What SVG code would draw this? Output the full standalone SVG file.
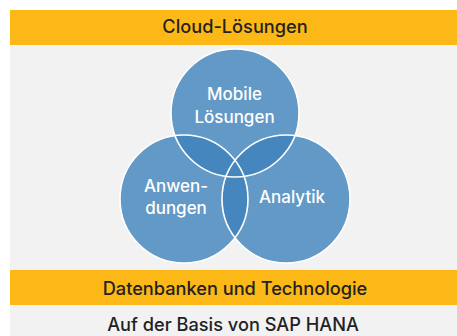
<svg xmlns="http://www.w3.org/2000/svg" xmlns:xlink="http://www.w3.org/1999/xlink" width="457" height="336" viewBox="0 0 457 336">
<style>
.bar{fill:#FCB817}
.bg{fill:#F2F2F2}
.lbl{font-family:Inter,"Open Sans",sans-serif;font-weight:500;fill:#222222;text-anchor:middle;font-size:18.2px}
.cl{font-family:Inter,"Open Sans",sans-serif;font-weight:500;fill:#FFFFFF;text-anchor:middle;font-size:17px}
.c{fill:#6399C6}
.ov{fill:#4686BF}
.ring{fill:none;stroke:#FFFFFF;stroke-width:1.6}
</style>
<defs>
<circle id="cT" cx="235" cy="113" r="64"/>
<circle id="cL" cx="184" cy="199" r="64"/>
<circle id="cR" cx="286" cy="199" r="64"/>
<clipPath id="clipT"><use xlink:href="#cT"/></clipPath>
<clipPath id="clipL"><use xlink:href="#cL"/></clipPath>
</defs>
<rect class="bg" x="10" y="45" width="447" height="291"/>
<g id="cloud">
<rect class="bar" x="10" y="10" width="447" height="35"/>
<text class="lbl" x="235" y="33">Cloud-Lösungen</text>
</g>
<g id="venn-fills">
<use xlink:href="#cT" class="c"/>
<use xlink:href="#cL" class="c"/>
<use xlink:href="#cR" class="c"/>
<use xlink:href="#cL" class="ov" clip-path="url(#clipT)"/>
<use xlink:href="#cR" class="ov" clip-path="url(#clipT)"/>
<use xlink:href="#cR" class="ov" clip-path="url(#clipL)"/>
</g>
<g id="mobile">
<use xlink:href="#cT" class="ring"/>
<text class="cl" x="234.5" y="100">Mobile</text>
<text class="cl" x="234.5" y="123">Lösungen</text>
</g>
<g id="anwendungen">
<use xlink:href="#cL" class="ring"/>
<text class="cl" x="176" y="192">Anwen-</text>
<text class="cl" x="176" y="214">dungen</text>
</g>
<g id="analytik">
<use xlink:href="#cR" class="ring"/>
<text class="cl" x="292" y="203">Analytik</text>
</g>
<g id="datenbanken">
<rect class="bar" x="10" y="270" width="447" height="35"/>
<text class="lbl" x="235" y="294.5">Datenbanken und Technologie</text>
</g>
<g id="basis">
<text class="lbl" x="233" y="331">Auf der Basis von SAP HANA</text>
</g>
</svg>
